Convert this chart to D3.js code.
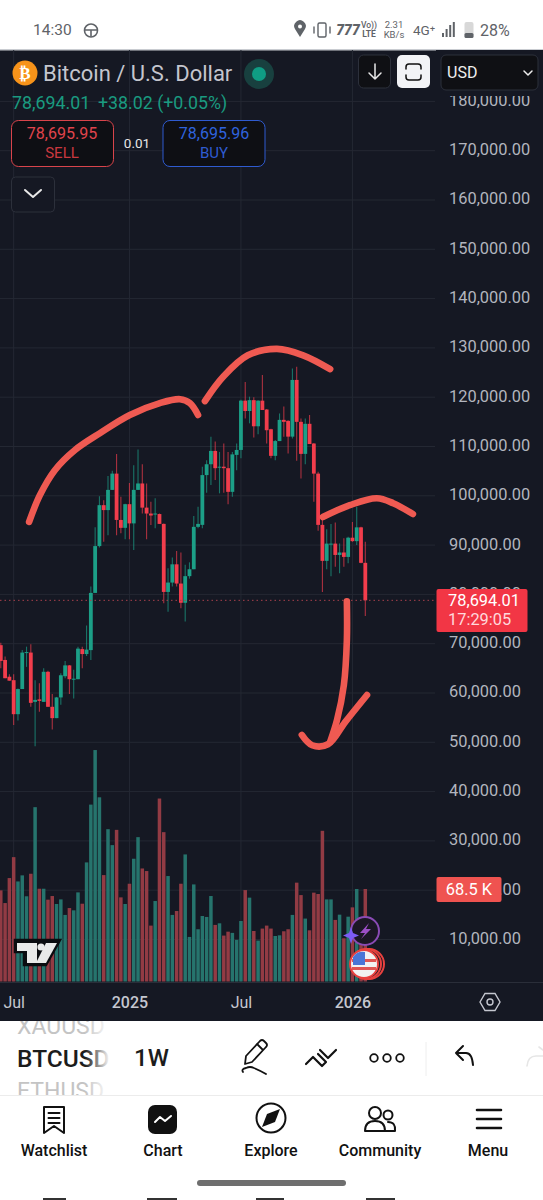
<!DOCTYPE html>
<html>
<head>
<meta charset="utf-8">
<script src="https://cdn.jsdelivr.net/npm/d3@7"></script>
<style>
  html, body { margin: 0; padding: 0; background: #fff; }
  svg { display: block; font-family: Roboto, sans-serif; }
</style>
</head>
<body>
<svg id="grafico" width="543" height="1200"></svg>
<script>
// weekly BTCUSD candles, prices in thousands of dollars, volume in K
const opens = [69.6,66.6,63.2,62.5,55.6,60.7,68.1,68.1,58.1,58.6,58.1,64.2,57.1,54.8,59.0,63.3,65.5,62.7,62.7,68.8,67.8,68.6,80.2,89.7,98.0,97.0,101.1,104.4,95.0,93.4,98.2,94.3,101.1,102.4,97.5,96.3,96.2,96.2,94.2,80.4,82.3,86.0,82.1,78.2,83.6,85.0,93.6,94.0,104.1,106.3,109.0,105.6,105.8,105.5,100.7,108.2,109.2,119.2,117.1,119.3,114.0,119.2,117.4,113.4,108.0,111.0,115.3,115.1,111.9,123.4,114.9,108.4,114.5,110.5,104.4,94.0,86.7,90.1,90.2,87.9,88.4,87.5,91.4,90.7,93.5,86.3];
const highs = [70.1,67.3,63.7,63.7,60.8,68.6,69.3,69.8,62.5,61.9,64.9,64.4,59.7,59.1,63.9,66.4,65.6,64.6,69.3,69.3,73.6,81.5,93.5,99.8,99.0,103.9,105.0,108.4,99.7,98.3,102.5,106.1,109.3,106.3,102.4,98.7,99.4,96.3,94.3,85.2,87.4,88.7,88.4,85.9,86.4,95.8,97.7,105.8,107.1,111.9,110.9,108.8,110.5,108.8,108.8,110.5,119.4,123.0,120.0,119.9,119.3,124.4,117.5,113.5,111.2,116.6,118.0,115.2,125.7,126.1,115.6,115.6,116.3,110.6,104.8,95.3,93.1,94.2,94.5,90.2,91.3,91.6,94.6,97.7,93.6,90.6];
const lows = [64.9,62.9,62.4,53.4,54.3,60.7,65.2,57.1,49.1,56.1,58.1,57.1,52.5,54.8,57.5,62.9,59.7,58.8,62.7,64.9,67.4,66.6,80.2,89.4,90.6,91.9,101.1,91.9,92.3,91.1,91.1,88.9,101.1,96.3,91.1,94.0,93.3,94.2,78.1,76.4,81.5,81.5,77.1,74.4,83.1,85.0,93.3,93.3,100.5,102.1,103.1,100.4,100.5,98.2,99.7,105.1,107.5,115.6,114.6,111.7,112.4,117.3,110.5,107.5,107.1,111.0,111.9,108.5,111.5,107.0,103.4,106.3,110.4,98.7,92.8,80.4,85.0,83.6,85.5,84.2,85.5,86.2,90.6,89.9,86.2,75.5];
const closes = [66.4,62.9,62.4,55.6,60.7,68.1,68.2,57.9,58.5,58.3,64.2,57.1,54.8,59.0,63.5,65.5,62.7,62.8,68.9,67.8,68.7,80.2,89.7,98.0,97.0,101.1,104.4,95.0,93.4,98.2,94.3,101.1,102.4,97.5,96.3,95.9,96.3,94.2,80.4,82.3,86.0,82.1,78.2,83.6,85.0,93.6,94.2,104.1,106.3,109.0,105.5,105.8,105.5,100.7,108.3,109.2,119.2,117.1,119.3,114.0,119.2,117.3,113.2,108.0,111.0,115.3,114.9,111.9,123.4,114.9,108.4,114.5,110.4,104.4,94.0,86.7,90.2,90.2,87.9,88.4,87.5,91.4,90.7,93.5,86.3,78.694];
const volumes = [67.5,58.1,76.6,92.1,74.1,78.6,63.1,79.8,129.1,68.7,68.7,60.6,63.3,57.4,60.8,49.3,54.4,52.7,66.0,57.6,88.2,131.0,171.4,136.4,78.8,112.8,101.0,112.3,62.3,57.4,72.4,90.9,106.9,83.7,81.8,41.4,59.6,135.5,110.6,78.1,49.3,52.2,72.4,94.1,33.0,71.9,38.7,48.5,47.8,63.3,41.9,43.1,34.0,36.9,36.0,30.8,44.8,67.7,62.1,37.4,30.3,39.2,41.4,39.2,33.7,34.2,37.2,38.7,49.3,73.2,64.0,46.6,37.9,65.8,64.8,111.6,60.8,60.8,45.6,49.5,32.0,48.0,54.9,68.5,30.0,68.5];

const priceTicks = d3.range(10, 181, 10);
const timeTickWeeks = [3, 30, 56, 82];
const timeTickLabels = ["Jul", "2025", "Jul", "2026"];
const lastPrice = 78.694;
const lastVolume = 68.5;

// hand drawn strokes on top of the chart: [week, price]
const strokeLeft = [[6.6,94.6],[9.1,100.0],[12.6,105.1],[17.3,109.2],[23.1,112.6],[30.1,116.3],[37.1,118.7],[41.8,119.5],[44.1,118.7],[46.0,116.3]];
const strokeHead = [[47.6,119.1],[51.8,124.0],[57.6,128.4],[64.4,129.7],[70.5,128.4],[76.8,125.6]];
const strokeRight = [[75.1,95.6],[81.4,98.0],[87.7,99.4],[91.5,98.4],[96.1,96.2]];
const strokeShaft = [[80.7,78.5],[80.7,70.6],[80.0,61.5],[78.4,54.4],[76.8,50.0]];
const strokeHook = [[70.2,51.4],[72.6,49.3],[76.3,49.5],[80.3,54.0],[85.4,59.5]];

const bg = "#151823", upColor = "#1c9f87", downColor = "#f23d4c";
const upVol = "#26746d", downVol = "#923b44", gridColor = "#242833";
const axisText = "#b2b5be", inkRed = "#ef5a52";

var svg = d3.select("#grafico");

var x = d3.scaleLinear().domain([0, 85]).range([0.8, 365.3]);
var y = d3.scaleLinear().domain([10, 180]).range([939, 100.9]);
var yVol = d3.scaleLinear().domain([0, lastVolume]).range([981.5, 889]);

var weeks = d3.range(opens.length);
function isUp(i) { return closes[i] >= opens[i]; }

// page background + chart pane
svg.append("rect").attr("width", 543).attr("height", 1200).attr("fill", "#fff");
svg.append("rect").attr("y", 50).attr("width", 543).attr("height", 971).attr("fill", bg);
svg.append("rect").attr("y", 49).attr("width", 543).attr("height", 1.5).attr("fill", "#c9ccd1");

// grid and axes
var timeAxis = d3.axisBottom(x)
    .tickValues(timeTickWeeks)
    .tickSize(0)
    .tickPadding(0)
    .tickFormat(function(d) { return timeTickLabels[timeTickWeeks.indexOf(d)]; });

svg.append("g").selectAll("line")
  .data(timeTickWeeks)
  .enter().append("line")
    .attr("x1", d => x(d)).attr("x2", d => x(d))
    .attr("y1", 50).attr("y2", 982)
    .attr("stroke", gridColor).attr("stroke-width", 1);

var priceAxis = d3.axisRight(y)
    .tickValues(priceTicks)
    .tickSize(435)
    .tickPadding(14)
    .tickFormat(function(d) { return d3.format(",.2f")(d * 1000); });

var gPrice = svg.append("g").attr("class", "price-axis").call(priceAxis);
gPrice.select(".domain").remove();
gPrice.selectAll("line").attr("stroke", gridColor).attr("stroke-width", 1);
gPrice.selectAll("text")
    .attr("fill", axisText)
    .attr("dy", "0.27em")
    .attr("font-size", 16.4)
    .attr("font-family", "Roboto, sans-serif");

// volume bars
svg.append("g").selectAll("rect")
  .data(weeks)
  .enter().append("rect")
    .attr("x", i => x(i) - 1.75)
    .attr("width", 3.5)
    .attr("y", i => yVol(volumes[i]))
    .attr("height", i => yVol(0) - yVol(volumes[i]))
    .attr("fill", i => isUp(i) ? upVol : downVol);

// candles
var candle = svg.append("g").selectAll("g")
  .data(weeks)
  .enter().append("g");

candle.append("line")
    .attr("x1", i => x(i)).attr("x2", i => x(i))
    .attr("y1", i => y(highs[i])).attr("y2", i => y(lows[i]))
    .attr("stroke", i => isUp(i) ? upColor : downColor)
    .attr("stroke-opacity", 0.68)
    .attr("stroke-width", 1.1);

candle.append("rect")
    .attr("x", i => x(i) - 1.9)
    .attr("width", 3.8)
    .attr("y", i => y(Math.max(opens[i], closes[i])))
    .attr("height", i => Math.max(1, Math.abs(y(opens[i]) - y(closes[i]))))
    .attr("fill", i => isUp(i) ? upColor : downColor);

// last price dotted line
svg.append("line")
    .attr("x1", 0).attr("x2", 436)
    .attr("y1", y(lastPrice)).attr("y2", y(lastPrice))
    .attr("stroke", "#a8404c").attr("stroke-width", 1)
    .attr("stroke-dasharray", "1.5 3");

// strokes drawn with the finger
var ink = d3.line()
    .x(d => x(d[0])).y(d => y(d[1]))
    .curve(d3.curveCatmullRom.alpha(0.5));
svg.append("g").selectAll("path")
  .data([strokeLeft, strokeHead, strokeRight, strokeShaft, strokeHook])
  .enter().append("path")
    .attr("d", ink)
    .attr("fill", "none")
    .attr("stroke", inkRed)
    .attr("stroke-width", 6.6)
    .attr("stroke-linecap", "round")
    .attr("stroke-linejoin", "round");

// hides the tick label that runs under the header
svg.append("rect").attr("x", 436).attr("y", 50).attr("width", 107).attr("height", 46).attr("fill", bg);

// bottom of the chart pane
svg.append("line").attr("x1", 0).attr("x2", 543).attr("y1", 982.5).attr("y2", 982.5).attr("stroke", "#2a2e39");
var gTime = svg.append("g").attr("transform", "translate(0,1002)").call(timeAxis);
gTime.select(".domain").remove();
gTime.selectAll("text")
    .attr("dy", "0.35em")
    .attr("y", 0)
    .attr("fill", "#c5c7d0")
    .attr("font-size", 16)
    .attr("font-family", "Roboto, sans-serif")
    .attr("font-weight", d => timeTickLabels[timeTickWeeks.indexOf(d)] === "Jul" ? 400 : 500);

svg.append("path")
    .attr("d", "M480 1002 L485 993.5 L495 993.5 L500 1002 L495 1010.5 L485 1010.5 Z")
    .attr("fill", "none").attr("stroke", "#c5c7d0").attr("stroke-width", 1.4);
svg.append("circle").attr("cx", 490).attr("cy", 1002).attr("r", 3)
    .attr("fill", "none").attr("stroke", "#c5c7d0").attr("stroke-width", 1.4);

function label(txt, px, py, size, fill, anchor, weight) {
  return svg.append("text").attr("x", px).attr("y", py)
    .attr("dy", "0.35em")
    .attr("font-size", size).attr("fill", fill)
    .attr("text-anchor", anchor || "start")
    .attr("font-weight", weight || 400)
    .text(txt);
}
function box(bx, by, bw, bh, r, fill, stroke) {
  return svg.append("rect").attr("x", bx).attr("y", by).attr("width", bw).attr("height", bh)
    .attr("rx", r).attr("fill", fill).attr("stroke", stroke || "none");
}
function icon(d, w, col) {
  return svg.append("path").attr("d", d).attr("fill", "none")
    .attr("stroke", col || "#111").attr("stroke-width", w || 2)
    .attr("stroke-linecap", "round").attr("stroke-linejoin", "round");
}

// price tags
box(436.5, 589, 91, 43, 2, "#f23645");
label("78,694.01", 448, 600.5, 16.4, "#fff");
label("17:29:05", 448, 619.5, 16.4, "#ffd9dc");
box(436.5, 877, 65, 25, 2, "#ef5350");
label("68.5 K", 469, 889.5, 16.4, "#fff", "middle");

// TradingView logo
var tv = svg.append("g");
tv.append("path")
    .attr("d", "M15 940 H60 L46 965 H36 L41 955 H38 V965 H24 V952 H15 Z")
    .attr("fill", "#0b0c10").attr("stroke", "#0b0c10").attr("stroke-width", 2.5);
tv.append("path").attr("d", "M17 943 H37 V963 H27 V951 H17 Z").attr("fill", "#e9e9e9");
tv.append("circle").attr("cx", 41).attr("cy", 947).attr("r", 3.6).attr("fill", "#e9e9e9");
tv.append("path").attr("d", "M46 943 H57 L46 963 H36 Z").attr("fill", "#e9e9e9");

// news + event badges
svg.append("circle").attr("cx", 365).attr("cy", 931).attr("r", 14).attr("fill", "#1b1725").attr("stroke", "#8a4bb5").attr("stroke-width", 2);
svg.append("path").attr("d", "M369 923 L360 933 H365 L361 939 L371 929 H366 Z").attr("fill", "#9c4fc7");
svg.append("path").attr("d", "M351 927 L353 933 L359 935.5 L353 938 L351 944 L349 938 L343 935.5 L349 933 Z").attr("fill", "#7c5cf5");
svg.append("circle").attr("cx", 369).attr("cy", 964).attr("r", 15).attr("fill", bg).attr("stroke", "#e8413f").attr("stroke-width", 2);
svg.append("circle").attr("cx", 366).attr("cy", 964).attr("r", 15).attr("fill", bg).attr("stroke", "#e8413f").attr("stroke-width", 2);
svg.append("circle").attr("cx", 364).attr("cy", 964).attr("r", 14).attr("fill", "#f2f2f2").attr("stroke", "#e8413f").attr("stroke-width", 2);
svg.append("rect").attr("x", 352).attr("y", 959).attr("width", 24).attr("height", 3).attr("fill", "#e05552");
svg.append("rect").attr("x", 352).attr("y", 967).attr("width", 24).attr("height", 3).attr("fill", "#e05552");
svg.append("path").attr("d", "M353 957 A12 12 0 0 1 365 952 V965 H353 Z").attr("fill", "#4a76d6");

// header over the chart
svg.append("circle").attr("cx", 25).attr("cy", 73).attr("r", 12.5).attr("fill", "#f7931a");
label("₿", 25, 73, 17, "#fff", "middle", 700).attr("font-family", "DejaVu Sans");
label("Bitcoin / U.S. Dollar", 43, 73, 22, "#c4c6ce");
svg.append("circle").attr("cx", 259).attr("cy", 74).attr("r", 15).attr("fill", "#18403f");
svg.append("circle").attr("cx", 259).attr("cy", 74).attr("r", 7).attr("fill", "#0f9d84");
label("78,694.01", 12, 103, 17.8, "#1a9b80");
label("+38.02 (+0.05%)", 98, 103, 17.8, "#1a9b80");

box(11.5, 120.5, 102, 46, 7, "#0e0f14", "#d8444b");
label("78,695.95", 62, 133, 16, "#e0444c", "middle");
label("SELL", 62, 153, 15, "#c9383f", "middle");
label("0.01", 137, 143.5, 13.5, "#e6e6e6", "middle");
box(163, 120.5, 102, 46, 7, "#0e0f14", "#2f5bd0");
label("78,695.96", 214, 133, 16, "#2f63dd", "middle");
label("BUY", 214, 153, 15, "#2f5bd0", "middle");

box(11.5, 177, 43, 35, 4, bg, "#2c303b");
icon("M25 190 L33 197 L41 190", 2, "#e8e8e8");

box(358.5, 55, 32, 33, 5, "#0f1014", "#2c303b");
icon("M375 64 V79 M369 73 L375 79 L381 73", 1.5, "#e8e8e8");
box(397, 55, 33, 33, 5, "#f2f3f6");
icon("M406 69 V67 Q406 64 409 64 H418 Q421 64 421 67 V69 M406 75 V77 Q406 80 409 80 H418 Q421 80 421 77 V75", 1.5, "#111");
box(441, 55, 97, 35, 5, "#0f1014", "#2c303b");
label("USD", 447, 72.5, 16, "#eee");
icon("M524 71 L528 75 L532 71", 1.5, "#eee");

// status bar
const grey = "#5f6368";
label("14:30", 33, 30, 15.5, grey);
svg.append("circle").attr("cx", 91).attr("cy", 30.5).attr("r", 6.5).attr("fill", "none").attr("stroke", grey).attr("stroke-width", 1.6);
icon("M85 30 H97 M91 31 V36", 1.6, grey);
svg.append("path").attr("d", "M300 37 L295 29 A5.8 5.8 0 1 1 305 29 Z").attr("fill", grey);
svg.append("circle").attr("cx", 300).attr("cy", 26.5).attr("r", 2).attr("fill", "#fff");
box(318, 23, 8, 14, 1.5, "none", grey).attr("stroke-width", 1.4);
icon("M314 27 V33 M330 27 V33", 1.4, grey);
label("777", 348, 30, 14, grey, "middle", 900).attr("font-style", "italic");
label("Vo))", 369, 25.5, 8.5, grey, "middle", 500);
label("LTE", 369, 34.5, 8.5, grey, "middle", 700);
label("2.31", 394, 25, 9.5, grey, "middle");
label("KB/s", 394, 35, 9.5, grey, "middle");
label("4G⁺", 424, 30, 13.5, grey, "middle");
svg.append("g").selectAll("rect")
  .data([4, 8, 12, 15])
  .enter().append("rect")
    .attr("x", (d, i) => 442 + i * 3.6).attr("y", d => 37 - d)
    .attr("width", 2).attr("height", d => d).attr("fill", grey);
box(464.5, 22, 9, 16, 2, "#d8d8d8");
box(464.5, 33, 9, 5, 1.5, grey);
label("28%", 480, 30, 16, grey);

// symbol strip under the chart
var strip = svg.append("defs").append("linearGradient").attr("id", "fade");
strip.append("stop").attr("offset", "0").attr("stop-color", "#fff").attr("stop-opacity", 0);
strip.append("stop").attr("offset", "1").attr("stop-color", "#fff").attr("stop-opacity", 1);
svg.append("defs").append("clipPath").attr("id", "stripClip")
  .append("rect").attr("x", 0).attr("y", 1021).attr("width", 543).attr("height", 74);

var gStrip = svg.append("g").attr("clip-path", "url(#stripClip)");
gStrip.append("text").attr("x", 17).attr("y", 1034).attr("font-size", 23).attr("fill", "#c4c4c4").text("XAUUSD");
gStrip.append("text").attr("x", 17).attr("y", 1066.5).attr("font-size", 24.5).attr("font-weight", 500).attr("fill", "#1c1c1c").text("BTCUSD");
gStrip.append("text").attr("x", 17).attr("y", 1099).attr("font-size", 23).attr("fill", "#c4c4c4").text("ETHUSD");
svg.append("rect").attr("x", 85).attr("y", 1021).attr("width", 25).attr("height", 74).attr("fill", "url(#fade)");
svg.append("rect").attr("x", 110).attr("y", 1021).attr("width", 22).attr("height", 74).attr("fill", "#fff");
label("1W", 134, 1058, 24, "#1c1c1c", "start", 500);

// pencil
icon("M246 1056 L260 1041 Q262 1039 264 1041 L266 1043 Q268 1045 266 1047 L252 1062 L245 1064 Z M257 1044 L263 1050", 1.8);
icon("M243 1072 Q241 1069 246 1068 Q250 1066 254 1068 Q261 1071 266 1074", 1.8);
// two chevrons
icon("M306 1064 L313 1057 L322 1066 L326 1062 L318 1054 M320 1050 L328 1058 L336 1050", 2.2);
// more
svg.append("g").selectAll("circle")
  .data([-13, 0, 13])
  .enter().append("circle")
    .attr("cx", d => 387 + d).attr("cy", 1058).attr("r", 3.8)
    .attr("fill", "none").attr("stroke", "#111").attr("stroke-width", 1.8);
svg.append("line").attr("x1", 426).attr("x2", 426).attr("y1", 1042).attr("y2", 1076).attr("stroke", "#eee");
icon("M456 1053 L463 1046 M456 1053 L463 1060 M456 1053 H466 Q472 1053 473 1065", 2);
icon("M543 1050 L539 1047 M527 1066 Q528 1056 536 1056 H543", 1.6, "#e6e6e6");
svg.append("line").attr("x1", 0).attr("x2", 543).attr("y1", 1095.5).attr("y2", 1095.5).attr("stroke", "#ececec");

// bottom tabs
const tabNames = ["Watchlist", "Chart", "Explore", "Community", "Menu"];
const tabCenters = [54, 163, 271, 380, 488];
tabNames.forEach(function(t, i) {
  label(t, tabCenters[i], 1150, 16, "#111", "middle", 500);
});
icon("M44 1107 H64 V1133 L54 1126 L44 1133 Z M48.5 1113 H59.5 M48.5 1118 H59.5 M48.5 1123 H59.5", 2);
box(148, 1105, 29, 29, 7, "#111");
icon("M155 1122 L160 1117 L165 1121 L171 1116", 2, "#fff");
svg.append("circle").attr("cx", 271).attr("cy", 1118).attr("r", 14.5).attr("fill", "none").attr("stroke", "#111").attr("stroke-width", 2);
svg.append("path").attr("d", "M280 1109 L275 1122 L262 1127 L267 1114 Z").attr("fill", "#111");
svg.append("circle").attr("cx", 375).attr("cy", 1113).attr("r", 6).attr("fill", "none").attr("stroke", "#111").attr("stroke-width", 2);
svg.append("circle").attr("cx", 388).attr("cy", 1115).attr("r", 4.5).attr("fill", "none").attr("stroke", "#111").attr("stroke-width", 2);
icon("M365 1131 Q365 1121 375 1121 Q385 1121 385 1131 Z M388 1122 Q396 1122 395 1131 H385", 2);
icon("M477 1110 H501 M477 1119 H501 M477 1128 H501", 2.6);

// home bar and the cut off row at the very bottom
box(197, 1180, 149, 6, 3, "#6e6e6e");
[[43, 66], [147, 177], [256, 284], [366, 395]].forEach(function(r) {
  svg.append("rect").attr("x", r[0]).attr("y", 1198).attr("width", r[1] - r[0]).attr("height", 2).attr("fill", "#333");
});
</script>
</body>
</html>
